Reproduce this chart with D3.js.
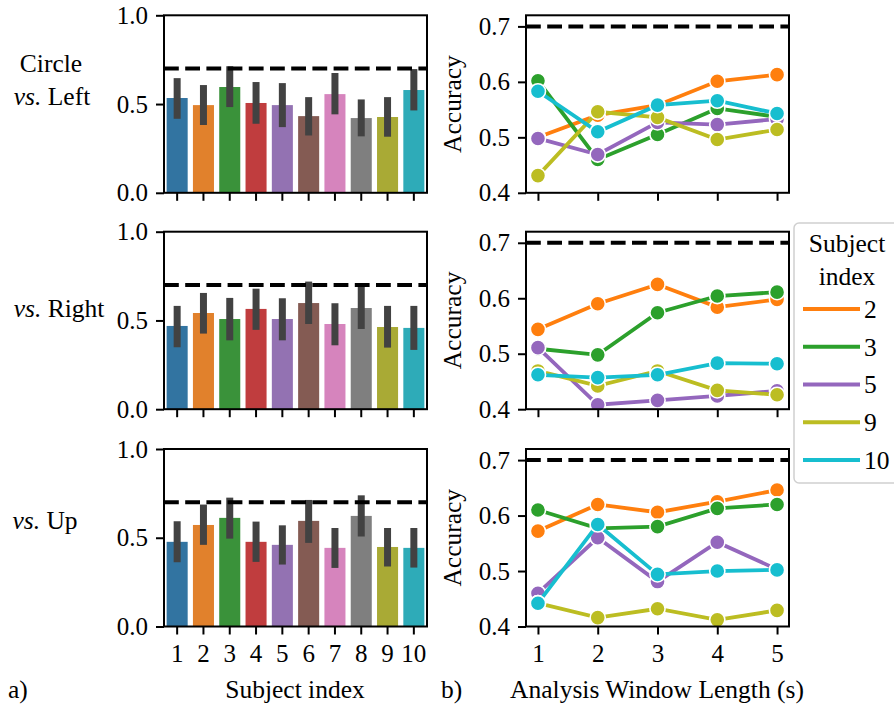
<!DOCTYPE html>
<html>
<head>
<meta charset="utf-8">
<script src="https://cdn.jsdelivr.net/npm/d3@7"></script>
<style>
  html, body { margin: 0; padding: 0; background: #fff; }
  svg { display: block; }
  svg text { font-family: "Liberation Serif", "Times New Roman", serif !important; fill: #000; }
</style>
</head>
<body>
<svg id="chart" width="894" height="709"></svg>
<script>
// ---- data ----
const subjects = ["1", "2", "3", "4", "5", "6", "7", "8", "9", "10"];
const barColors = ["#3274a1", "#e1812c", "#3a923a", "#c03d3e", "#9372b2",
                   "#845b53", "#d684bd", "#7f7f7f", "#a9aa35", "#2eabb8"];

// Circle vs. Left: mean accuracy and CI per subject
const leftMean = [0.534, 0.494, 0.596, 0.506, 0.494, 0.432, 0.556, 0.421, 0.427, 0.579];
const leftLo   = [0.417, 0.382, 0.483, 0.389, 0.370, 0.323, 0.442, 0.318, 0.316, 0.464];
const leftHi   = [0.646, 0.607, 0.713, 0.624, 0.618, 0.539, 0.675, 0.526, 0.539, 0.697];
// vs. Right
const rightMean = [0.469, 0.542, 0.508, 0.565, 0.508, 0.598, 0.480, 0.570, 0.463, 0.458];
const rightLo   = [0.349, 0.426, 0.388, 0.447, 0.388, 0.480, 0.360, 0.452, 0.347, 0.334];
const rightHi   = [0.582, 0.655, 0.627, 0.679, 0.625, 0.719, 0.597, 0.689, 0.582, 0.582];
// vs. Up
const upMean = [0.477, 0.572, 0.612, 0.477, 0.460, 0.595, 0.443, 0.623, 0.448, 0.443];
const upLo   = [0.362, 0.460, 0.495, 0.364, 0.349, 0.471, 0.330, 0.507, 0.338, 0.332];
const upHi   = [0.593, 0.687, 0.726, 0.591, 0.570, 0.713, 0.555, 0.739, 0.555, 0.555];

const barTicks = [0.0, 0.5, 1.0];
const chanceLevel = 0.7;

// Accuracy vs analysis window length for selected subjects
const windowLengths = [1, 2, 3, 4, 5];
const lineSubjects = ["2", "3", "5", "9", "10"];
const lineColors = ["#ff7f0e", "#2ca02c", "#9467bd", "#bcbd22", "#17becf"];
const lineTicks = [0.4, 0.5, 0.6, 0.7];

const leftS2  = [0.500, 0.540, 0.558, 0.601, 0.613];
const leftS3  = [0.602, 0.460, 0.505, 0.552, 0.537];
const leftS5  = [0.498, 0.469, 0.527, 0.523, 0.533];
const leftS9  = [0.431, 0.546, 0.536, 0.496, 0.514];
const leftS10 = [0.583, 0.510, 0.558, 0.566, 0.543];

const rightS2  = [0.544, 0.590, 0.625, 0.584, 0.598];
const rightS3  = [0.509, 0.498, 0.574, 0.604, 0.611];
const rightS5  = [0.511, 0.408, 0.416, 0.424, 0.433];
const rightS9  = [0.469, 0.442, 0.469, 0.434, 0.426];
const rightS10 = [0.462, 0.457, 0.462, 0.483, 0.482];

const upS2  = [0.572, 0.620, 0.606, 0.625, 0.646];
const upS3  = [0.610, 0.577, 0.580, 0.613, 0.620];
const upS5  = [0.460, 0.560, 0.481, 0.552, 0.503];
const upS9  = [0.442, 0.416, 0.432, 0.412, 0.429];
const upS10 = [0.442, 0.584, 0.494, 0.500, 0.502];

const rows = [
  { mean: leftMean, lo: leftLo, hi: leftHi, lines: [leftS2, leftS3, leftS5, leftS9, leftS10] },
  { mean: rightMean, lo: rightLo, hi: rightHi, lines: [rightS2, rightS3, rightS5, rightS9, rightS10] },
  { mean: upMean, lo: upLo, hi: upHi, lines: [upS2, upS3, upS5, upS9, upS10] }
];

// ---- layout ----
const svg = d3.select("#chart");
const rowTops = [15.3, 231.7, 449];
const panelH = 177.5;
const barX0 = 164, barX1 = 427;
const lineX0 = 526, lineX1 = 789;
const tickFont = 25, labelFont = 25.5;
const serif = "'Liberation Serif', 'Times New Roman', serif";

const xBand = d3.scaleBand().domain(subjects).range([barX0, barX1]).paddingInner(0.2).paddingOuter(0.1);
const xLine = d3.scaleLinear().domain([0.8, 5.2]).range([lineX0, lineX1]);

function styleAxis(g) {
  g.attr("font-family", serif);
  g.select(".domain").remove();
  g.selectAll(".tick line").attr("stroke", "#000").attr("stroke-width", 2);
  g.selectAll(".tick text").attr("font-size", tickFont);
}

function frame(x0, x1, y0, y1) {
  svg.append("rect").attr("x", x0).attr("y", y0)
    .attr("width", x1 - x0).attr("height", y1 - y0)
    .attr("fill", "none").attr("stroke", "#000").attr("stroke-width", 2);
}

rows.forEach((row, r) => {
  const top = rowTops[r], bottom = top + panelH;
  const isLast = r === rows.length - 1;

  // ---- bar panel ----
  const yBar = d3.scaleLinear().domain([0, 1]).range([bottom, top]);
  const gb = svg.append("g");
  gb.selectAll("rect.bar").data(row.mean).join("rect")
    .attr("class", "bar")
    .attr("x", (d, i) => xBand(subjects[i]))
    .attr("width", xBand.bandwidth())
    .attr("y", d => yBar(d))
    .attr("height", d => yBar(0) - yBar(d))
    .attr("fill", (d, i) => barColors[i]);
  gb.selectAll("line.err").data(row.mean).join("line")
    .attr("class", "err")
    .attr("x1", (d, i) => xBand(subjects[i]) + xBand.bandwidth() / 2)
    .attr("x2", (d, i) => xBand(subjects[i]) + xBand.bandwidth() / 2)
    .attr("y1", (d, i) => yBar(row.lo[i]))
    .attr("y2", (d, i) => yBar(row.hi[i]))
    .attr("stroke", "#424242").attr("stroke-width", 7);
  gb.append("line")
    .attr("x1", barX0).attr("x2", barX1)
    .attr("y1", yBar(chanceLevel)).attr("y2", yBar(chanceLevel))
    .attr("stroke", "#000").attr("stroke-width", 4).attr("stroke-dasharray", "14.8,6.4");

  const yAxB = svg.append("g").attr("transform", `translate(${barX0},0)`)
    .call(d3.axisLeft(yBar).tickValues(barTicks).tickFormat(d3.format(".1f")).tickSize(8).tickPadding(8));
  styleAxis(yAxB);
  const xAxB = svg.append("g").attr("transform", `translate(0,${bottom})`)
    .call(d3.axisBottom(xBand).tickSize(8).tickPadding(10));
  styleAxis(xAxB);
  if (!isLast) xAxB.selectAll(".tick text").remove();
  frame(barX0, barX1, top, bottom);

  // ---- line panel ----
  const yLine = d3.scaleLinear().domain([0.4, 0.72]).range([bottom, top]);
  const clipId = `clip-${r}`;
  svg.append("clipPath").attr("id", clipId).append("rect")
    .attr("x", lineX0).attr("y", top).attr("width", lineX1 - lineX0).attr("height", panelH);
  const gl = svg.append("g").attr("clip-path", `url(#${clipId})`);
  gl.append("line")
    .attr("x1", lineX0).attr("x2", lineX1)
    .attr("y1", yLine(chanceLevel)).attr("y2", yLine(chanceLevel))
    .attr("stroke", "#000").attr("stroke-width", 4).attr("stroke-dasharray", "14.8,6.4");
  const lineGen = d3.line().x((d, i) => xLine(windowLengths[i])).y(d => yLine(d));
  row.lines.forEach((vals, k) => {
    const gs = gl.append("g");
    gs.append("path").attr("d", lineGen(vals))
      .attr("fill", "none").attr("stroke", lineColors[k]).attr("stroke-width", 3.8);
    gs.selectAll("circle").data(vals).join("circle")
      .attr("cx", (d, i) => xLine(windowLengths[i]))
      .attr("cy", d => yLine(d))
      .attr("r", 7.6)
      .attr("fill", lineColors[k]).attr("stroke", "#fff").attr("stroke-width", 1.6);
  });

  const yAxL = svg.append("g").attr("transform", `translate(${lineX0},0)`)
    .call(d3.axisLeft(yLine).tickValues(lineTicks).tickFormat(d3.format(".1f")).tickSize(8).tickPadding(8));
  styleAxis(yAxL);
  const xAxL = svg.append("g").attr("transform", `translate(0,${bottom})`)
    .call(d3.axisBottom(xLine).tickValues(windowLengths).tickFormat(d3.format("d")).tickSize(8).tickPadding(10));
  styleAxis(xAxL);
  if (!isLast) xAxL.selectAll(".tick text").remove();
  frame(lineX0, lineX1, top, bottom);

  svg.append("text")
    .attr("transform", `translate(461,${(top + bottom) / 2}) rotate(-90)`)
    .attr("text-anchor", "middle").attr("font-size", labelFont)
    .text("Accuracy");
});

// ---- row labels ----
function rowLabel(x, y, italicPart, rest) {
  const t = svg.append("text").attr("x", x).attr("y", y)
    .attr("text-anchor", "middle").attr("font-size", labelFont);
  t.append("tspan").attr("font-style", "italic").text(italicPart);
  t.append("tspan").text(rest);
}
svg.append("text").attr("x", 51).attr("y", 72).attr("text-anchor", "middle")
  .attr("font-size", labelFont).text("Circle");
rowLabel(52, 105, "vs.", " Left");
rowLabel(59, 317, "vs.", " Right");
rowLabel(45, 529, "vs.", " Up");

// ---- bottom labels ----
svg.append("text").attr("x", 8).attr("y", 698).attr("font-size", labelFont).text("a)");
svg.append("text").attr("x", 295).attr("y", 698).attr("text-anchor", "middle")
  .attr("font-size", labelFont).text("Subject index");
svg.append("text").attr("x", 441).attr("y", 698).attr("font-size", labelFont).text("b)");
svg.append("text").attr("x", 657).attr("y", 698).attr("text-anchor", "middle")
  .attr("font-size", labelFont).text("Analysis Window Length (s)");

// ---- legend ----
const lg = svg.append("g");
lg.append("rect").attr("x", 794).attr("y", 223).attr("width", 120).attr("height", 260)
  .attr("rx", 5).attr("fill", "#fff").attr("fill-opacity", 0.8)
  .attr("stroke", "#d0d0d0").attr("stroke-width", 1.5);
lg.append("text").attr("x", 847).attr("y", 252).attr("text-anchor", "middle")
  .attr("font-size", labelFont).text("Subject");
lg.append("text").attr("x", 847).attr("y", 285).attr("text-anchor", "middle")
  .attr("font-size", labelFont).text("index");
const legendY = d3.scalePoint().domain(lineSubjects).range([309, 460]);
lineSubjects.forEach((s, k) => {
  lg.append("line").attr("x1", 803).attr("x2", 860)
    .attr("y1", legendY(s)).attr("y2", legendY(s))
    .attr("stroke", lineColors[k]).attr("stroke-width", 3.8);
  lg.append("text").attr("x", 864).attr("y", legendY(s)).attr("dy", "0.35em")
    .attr("font-size", labelFont).text(s);
});
</script>
</body>
</html>
